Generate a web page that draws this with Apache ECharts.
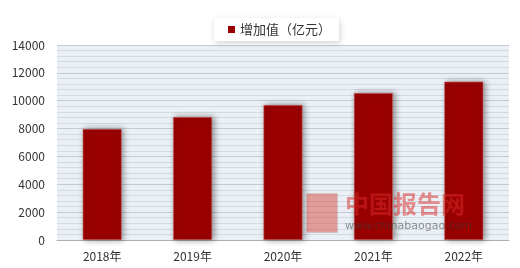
<!DOCTYPE html>
<html><head><meta charset="utf-8">
<script src="https://cdn.jsdelivr.net/npm/echarts@6/dist/echarts.min.js"></script>
<style>html,body{margin:0;padding:0;background:#fff}#c{width:520px;height:268px}</style>
</head><body><div id="c"></div>
<script>
const categories = ['2018年','2019年','2020年','2021年','2022年'];
const values = [7970, 8830, 9690, 10550, 11370];
const seriesName = '增加值（亿元）';

const chart = echarts.init(document.getElementById('c'));
chart.setOption({
  animation: false,
  backgroundColor: '#fff',
  textStyle: {fontFamily: '"Noto Sans CJK SC", "DejaVu Sans", sans-serif'},
  legend: {
    top: 18, left: 214,
    padding: [5, 8, 5, 14],
    backgroundColor: '#fff',
    shadowColor: 'rgba(0,0,0,0.18)', shadowBlur: 6, shadowOffsetX: 1, shadowOffsetY: 2,
    itemWidth: 7, itemHeight: 7, itemGap: 4,
    icon: 'rect',
    itemStyle: {borderWidth: 0, shadowBlur: 0, color: '#990000'},
    textStyle: {fontSize: 13, color: '#333'},
    data: [seriesName]
  },
  grid: {left: 57, right: 11, top: 45, bottom: 28, show: true, backgroundColor: '#eaf0f5', borderWidth: 0},
  xAxis: {
    type: 'category', data: categories,
    axisLine: {lineStyle: {color: '#a8b0b8'}},
    axisTick: {show: false},
    axisLabel: {fontSize: 12, color: '#333', margin: 10}
  },
  yAxis: {
    type: 'value', min: 0, max: 14000, interval: 2000,
    axisLine: {show: false}, axisTick: {show: false},
    axisLabel: {fontSize: 12, color: '#333', margin: 12, formatter: v => String(v)},
    splitLine: {lineStyle: {color: '#c3ccd5', width: 1}},
    minorTick: {show: false, splitNumber: 5},
    minorSplitLine: {show: true, lineStyle: {color: '#d3dae1', width: 1}}
  },
  graphic: [
    {type: 'rect', left: 306, top: 193, shape: {width: 31, height: 39}, style: {fill: '#d8372a', stroke: '#b8b8b8', lineWidth: 1, opacity: 0.45}, z: 10},
    {type: 'text', left: 345, top: 192, style: {text: '中国报告网', fill: 'rgba(220,40,40,0.5)', font: 'bold 24px "Noto Sans CJK SC"'}, z: 10},
    {type: 'text', left: 345, top: 221, style: {text: 'www.chinabaogao.com', fill: 'rgba(60,60,60,0.55)', font: '11px "DejaVu Sans"'}, z: 10}
  ],
  series: [{
    name: seriesName, type: 'bar', data: values, barWidth: 39,
    itemStyle: {color: '#990000', borderColor: '#c96a6a', borderWidth: 0.6,
      shadowColor: 'rgba(0,0,0,0.4)', shadowBlur: 6, shadowOffsetX: 2, shadowOffsetY: 0}
  }]
});
</script></body></html>
